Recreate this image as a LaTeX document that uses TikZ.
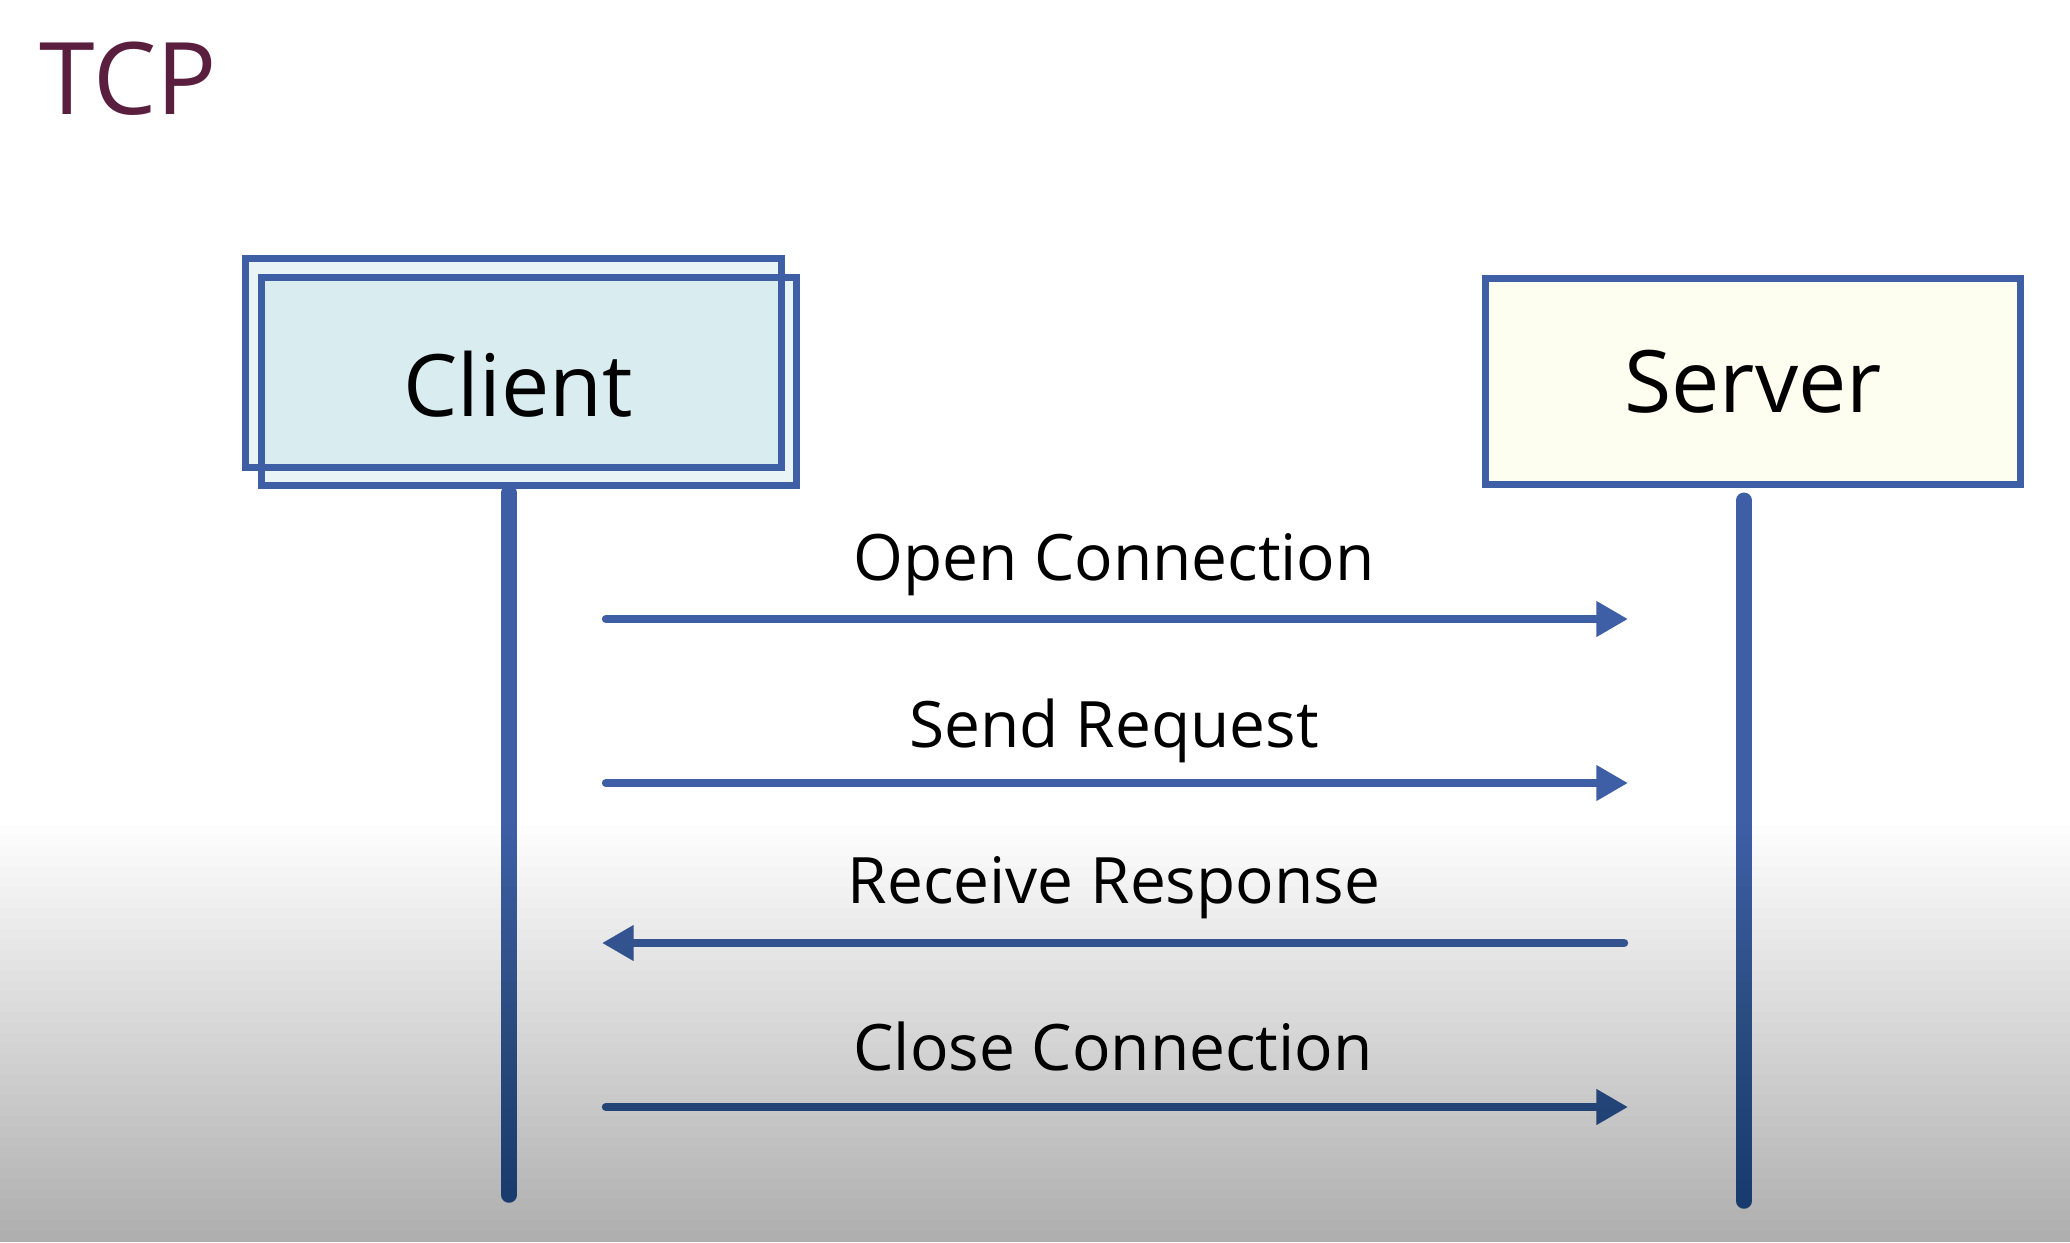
\documentclass[tikz,border=0pt]{standalone}
\usepackage{fontspec}
\setmainfont{Open Sans}
\usetikzlibrary{arrows.meta}

\definecolor{tcpblue}{RGB}{62,95,166}
\definecolor{tcptitle}{RGB}{90,30,62}
\definecolor{clientfill}{RGB}{186,221,230}
\definecolor{serverfill}{RGB}{253,253,240}

\begin{document}
\begin{tikzpicture}[x=0.01cm,y=-0.01cm,
                    >={Triangle[length=9pt,width=9.6pt]},   % arrow tip
                    boxfill/.style={inner sep=0pt,outer sep=0pt,fill opacity=0.32,fill=clientfill},
                    boxline/.style={draw=tcpblue,line width=2pt},
                    box/.style={draw=tcpblue,line width=2pt,inner sep=0pt,font=\fontsize{24.5}{28}\selectfont},
                    life/.style={tcpblue,line width=4.4pt,line cap=round},
                    msg/.style={tcpblue,line width=2.4pt,line cap=round},
                    msglabel/.style={anchor=base,inner sep=0pt,font=\fontsize{18.2}{22}\selectfont}]

\useasboundingbox (0,0) rectangle (2070,1242);
\fill[white] (0,0) rectangle (2070,1242);

%%%% title
\node[anchor=base west,inner sep=0pt,text=tcptitle,font=\fontsize{28.5}{32}\selectfont] (title) at (39,114) {TCP};

%%%% client (two boxes, lines over both fills)
\node[boxfill,minimum width=5.35cm,minimum height=2.08cm] (clientback) at (513.5,363) {};
\node[boxfill,minimum width=5.34cm,minimum height=2.07cm] (client) at (529,381.5) {};
\draw[boxline] (clientback.south west) rectangle (clientback.north east);
\draw[boxline] (client.south west) rectangle (client.north east);
\node[anchor=base,inner sep=0pt,font=\fontsize{24.5}{28}\selectfont] (clientlabel) at (518,416) {Client};

%%%% server
\node[box,fill=serverfill,minimum width=5.34cm,minimum height=2.05cm] (server) at (1753,381.5) {Server};

%%%% lifelines
\coordinate (clientend) at (509,1195);
\coordinate (serverend) at (1744,1201);
\draw[life] ([yshift=-2.2pt]client.south -| clientend) -- (clientend);
\draw[life] ([yshift=-3.6pt]server.south -| serverend) -- (serverend);

%%%% messages
\coordinate (open-l) at (606,619);
\coordinate (open-r) at (1628,619);
\coordinate (send-l) at (606,783);
\coordinate (send-r) at (1628,783);
\coordinate (recv-l) at (602,943);
\coordinate (recv-r) at (1624,943);
\coordinate (close-l) at (606,1107);
\coordinate (close-r) at (1628,1107);

\draw[msg,->] (open-l) -- (open-r);
\draw[msg,->] (send-l) -- (send-r);
\draw[msg,->] (recv-r) -- (recv-l);
\draw[msg,->] (close-l) -- (close-r);

\node[msglabel] (openlabel) at (1114,580) {Open Connection};
\node[msglabel] (sendlabel) at (1114,747) {Send Request};
\node[msglabel] (recvlabel) at (1114,903) {Receive Response};
\node[msglabel] (closelabel) at (1113,1070) {Close Connection};

%%%% grey shade at the bottom
\foreach \i in {0,...,39}
  \fill[black,opacity=0.0075] (0,{825+\i*10.4}) rectangle (2070,1242);

\end{tikzpicture}
\end{document}
